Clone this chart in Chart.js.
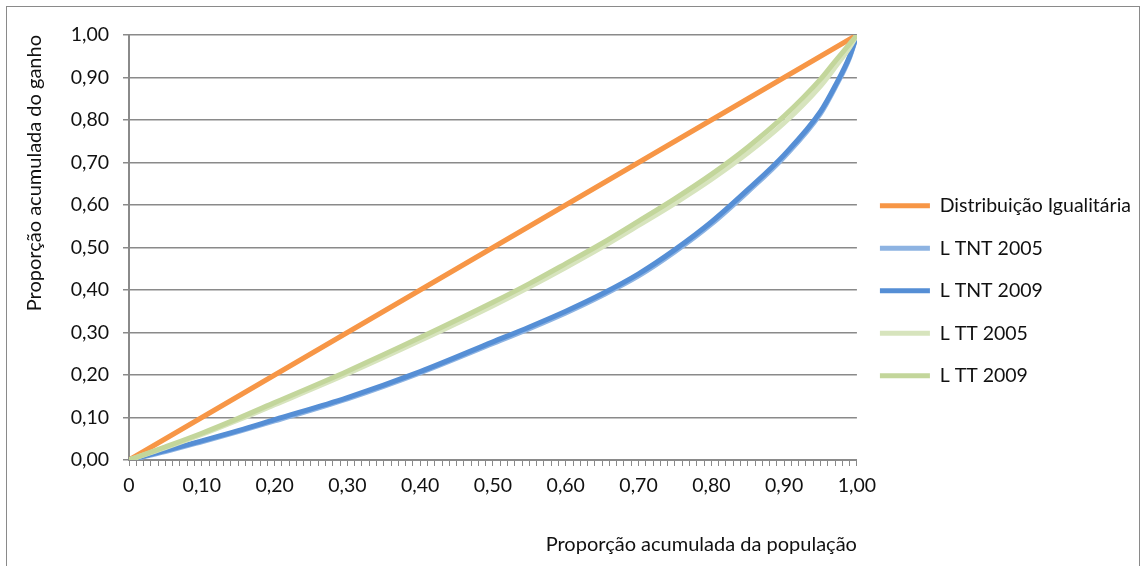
<!DOCTYPE html>
<html>
<head>
<meta charset="utf-8">
<script src="https://cdn.jsdelivr.net/npm/chart.js@4/dist/chart.umd.min.js"></script>
<style>
  html, body { margin: 0; padding: 0; background: #ffffff; }
  #frame { position: absolute; left: 6px; top: 6px; width: 1132px; height: 620px; border: 1px solid #8a8a8a; }
  #wrap { position: absolute; left: 0; top: 0; width: 1146px; height: 566px; }
</style>
</head>
<body>
<div id="frame"></div>
<div id="wrap"><canvas id="c" width="1146" height="566"></canvas></div>
<script>
// Cumulative population share (x) shared by every curve
const popShare    = [0, 0.05, 0.10, 0.15, 0.20, 0.30, 0.40, 0.50, 0.55, 0.60, 0.65, 0.70, 0.75, 0.80, 0.85, 0.90, 0.95, 0.97, 0.99, 1.00];
// Cumulative income share for each series
const igualitaria = [0, 0.05, 0.10, 0.15, 0.20, 0.30, 0.40, 0.50, 0.55, 0.60, 0.65, 0.70, 0.75, 0.80, 0.85, 0.90, 0.95, 0.97, 0.99, 1.00];
const tnt2005     = [0, 0.020, 0.043, 0.067, 0.092, 0.144, 0.205, 0.274, 0.309, 0.346, 0.387, 0.433, 0.490, 0.555, 0.631, 0.713, 0.815, 0.876, 0.947, 1.00];
const tnt2009     = [0, 0.022, 0.045, 0.069, 0.095, 0.147, 0.208, 0.278, 0.313, 0.350, 0.391, 0.438, 0.495, 0.560, 0.636, 0.718, 0.820, 0.880, 0.950, 1.00];
const tt2005      = [0, 0.029, 0.060, 0.094, 0.130, 0.203, 0.281, 0.363, 0.407, 0.453, 0.501, 0.552, 0.604, 0.660, 0.722, 0.793, 0.880, 0.924, 0.971, 1.00];
const tt2009      = [0, 0.031, 0.063, 0.098, 0.135, 0.209, 0.288, 0.371, 0.415, 0.462, 0.510, 0.562, 0.615, 0.672, 0.736, 0.809, 0.896, 0.938, 0.979, 1.00];

const seriesNames = ['Distribuição Igualitária', 'L TNT 2005', 'L TNT 2009', 'L TT 2005', 'L TT 2009'];
const xTickLabels = ['0', '0,10', '0,20', '0,30', '0,40', '0,50', '0,60', '0,70', '0,80', '0,90', '1,00'];
const yTickLabels = ['0,00', '0,10', '0,20', '0,30', '0,40', '0,50', '0,60', '0,70', '0,80', '0,90', '1,00'];
const xTitle = 'Proporção acumulada da população';
const yTitle = 'Proporção acumulada do ganho';

const FONT = 'Lato';
const TEXT = '#111111';
const GRID = '#8a8a8a';

Chart.defaults.font.family = FONT;
Chart.defaults.font.size = 20;
Chart.defaults.color = TEXT;

const toPoints = ys => popShare.map((x, i) => ({ x: x, y: ys[i] }));

function series(label, values, color, order, curved) {
  return {
    label: label,
    data: toPoints(values),
    borderColor: color,
    backgroundColor: color,
    borderWidth: 5,
    borderCapStyle: 'round',
    borderJoinStyle: 'round',
    pointRadius: 0,
    fill: false,
    order: order,
    cubicInterpolationMode: curved ? 'monotone' : 'default',
    tension: 0
  };
}

new Chart(document.getElementById('c'), {
  type: 'line',
  data: {
    datasets: [
      series(seriesNames[0], igualitaria, '#f79646', 5, false),
      series(seriesNames[1], tnt2005, '#8db3e2', 4, true),
      series(seriesNames[2], tnt2009, '#558ed5', 3, true),
      series(seriesNames[3], tt2005, '#d7e4bd', 2, true),
      series(seriesNames[4], tt2009, '#c3d69b', 1, true)
    ]
  },
  options: {
    responsive: false,
    animation: false,
    devicePixelRatio: 1,
    events: [],
    layout: { padding: { left: 0, top: 35, right: 5, bottom: 0 } },
    plugins: {
      tooltip: { enabled: false },
      legend: {
        position: 'right',
        align: 'start',
        // empty title only reserves space above the legend entries
        title: { display: true, text: '', font: { size: 20 }, padding: { top: 0, bottom: 114 } },
        labels: {
          usePointStyle: true,
          pointStyle: 'line',
          pointStyleWidth: 50,
          padding: 23,
          color: TEXT,
          font: { family: FONT, size: 19.5 },
          sort: (a, b) => a.datasetIndex - b.datasetIndex
        }
      }
    },
    scales: {
      x: {
        type: 'linear',
        min: 0,
        max: 1,
        afterFit: s => { s.height = 106; },
        ticks: {
          stepSize: 0.01,
          autoSkip: false,
          maxRotation: 0,
          padding: 8,
          font: { size: 19.5 },
          callback: (v, i) => (i % 10 === 0 ? xTickLabels[i / 10] : '')
        },
        grid: { drawOnChartArea: false, drawTicks: true, tickLength: 6, color: GRID, lineWidth: 1 },
        border: { color: GRID, width: 2 },
        title: { display: true, text: xTitle, align: 'end', padding: { top: 0, bottom: 9 } }
      },
      y: {
        min: 0,
        max: 1,
        afterFit: s => { s.width = 129; },
        ticks: {
          stepSize: 0.1,
          padding: 14,
          font: { size: 19.5 },
          callback: (v, i) => yTickLabels[i]
        },
        grid: { color: GRID, lineWidth: 1.5, tickLength: 6 },
        border: { color: GRID, width: 2 },
        title: { display: true, text: yTitle, align: 'end', padding: { top: 23, bottom: 0 } }
      }
    }
  }
});
</script>
</body>
</html>
